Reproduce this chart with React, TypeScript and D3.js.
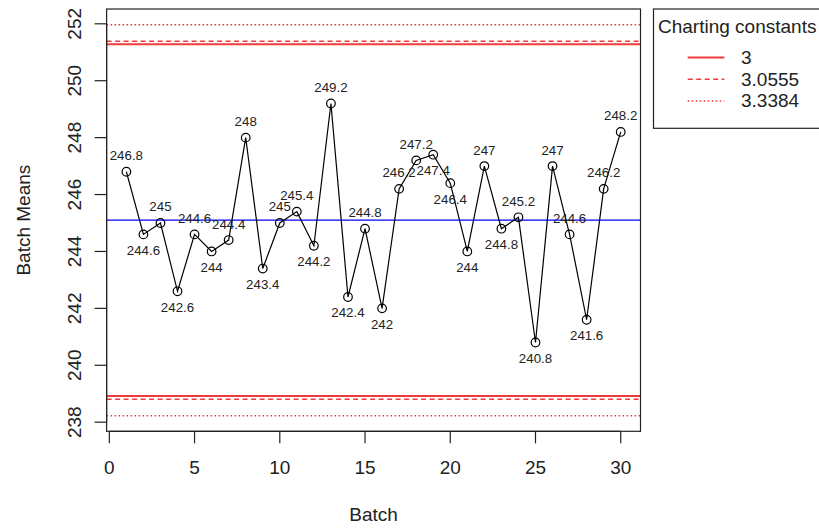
import React from "react";
import * as d3 from "d3";

const batches = d3.range(1, 31);
const batchMeans = [
  246.8, 244.6, 245, 242.6, 244.6, 244, 244.4, 248, 243.4, 245,
  245.4, 244.2, 249.2, 242.4, 244.8, 242, 246.2, 247.2, 247.4, 246.4,
  244, 247, 244.8, 245.2, 240.8, 247, 244.6, 241.6, 246.2, 248.2,
];
// label placement: 1 = above, -1 = below
const labelSide = [
  1, -1, 1, -1, 1, -1, 1, 1, -1, 1,
  1, -1, 1, -1, 1, -1, 1, 1, -1, -1,
  -1, 1, -1, 1, -1, 1, 1, -1, 1, 1,
];
const constants = ["3", "3.0555", "3.3384"];
const upperLimits = [251.28, 251.39, 251.97];
const lowerLimits = [238.92, 238.81, 238.23];
const dashes = [null, "5,3.5", "1.5,2.5"];
const xTicks = [0, 5, 10, 15, 20, 25, 30];
const yTicks = [238, 240, 242, 244, 246, 248, 250, 252];

const FONT = "'Liberation Sans', Arial, Helvetica, sans-serif";

export default function App() {
  const x = d3.scaleLinear().domain([-0.16, 31.16]).range([106.6, 640.5]);
  const y = d3.scaleLinear().domain([237.68, 252.52]).range([431.3, 9]);
  const center = d3.mean(batchMeans) as number;
  const line = d3
    .line<number>()
    .x((_, i) => x(batches[i]))
    .y((d) => y(d));
  const [x0, x1] = x.range();
  const [yb, yt] = y.range();
  const red = "#f03a3a";

  return (
    <svg
      width={819}
      height={529}
      style={{ position: "absolute", left: 0, top: 0, background: "#fff" }}
      fontFamily={FONT}
    >
      <rect x={0} y={0} width={819} height={529} fill="#fff" />
      {/* control limits */}
      {constants.map((c, i) => (
        <g key={c}>
          {[upperLimits[i], lowerLimits[i]].map((v, j) => (
            <line
              key={j}
              x1={x0}
              x2={x1}
              y1={y(v)}
              y2={y(v)}
              stroke={red}
              strokeWidth={i === 0 ? 2 : 1.5}
              strokeDasharray={dashes[i] ?? undefined}
            />
          ))}
        </g>
      ))}
      {/* center line */}
      <line x1={x0} x2={x1} y1={y(center)} y2={y(center)} stroke="#0000ff" strokeWidth={1.2} />
      {/* data */}
      <path d={line(batchMeans) ?? ""} fill="none" stroke="#000" strokeWidth={1.2} />
      {batchMeans.map((v, i) => (
        <circle key={i} cx={x(batches[i])} cy={y(v)} r={4.3} fill="none" stroke="#000" strokeWidth={1.2} />
      ))}
      {batchMeans.map((v, i) => (
        <text
          key={"l" + i}
          x={x(batches[i])}
          y={y(v) - labelSide[i] * 16}
          fontSize={13.3}
          textAnchor="middle"
          dominantBaseline="central"
          fill="#222"
        >
          {String(v)}
        </text>
      ))}
      {/* box */}
      <rect x={x0} y={yt} width={x1 - x0} height={yb - yt} fill="none" stroke="#222" strokeWidth={1.2} />
      {/* x axis */}
      <line x1={x(0)} x2={x(30)} y1={yb} y2={yb} stroke="#222" strokeWidth={1.2} />
      {xTicks.map((t) => (
        <g key={t}>
          <line x1={x(t)} x2={x(t)} y1={yb} y2={yb + 12} stroke="#222" strokeWidth={1.2} />
          <text x={x(t)} y={467.5} fontSize={19} textAnchor="middle" dominantBaseline="central" fill="#222">
            {t}
          </text>
        </g>
      ))}
      <text x={(x0 + x1) / 2} y={514.5} fontSize={19} textAnchor="middle" dominantBaseline="central" fill="#222">
        Batch
      </text>
      {/* y axis */}
      <line x1={x0} x2={x0} y1={y(238)} y2={y(252)} stroke="#222" strokeWidth={1.2} />
      {yTicks.map((t) => (
        <g key={t}>
          <line x1={x0 - 12} x2={x0} y1={y(t)} y2={y(t)} stroke="#222" strokeWidth={1.2} />
          <text
            transform={`translate(74,${y(t)}) rotate(-90)`}
            fontSize={19}
            textAnchor="middle"
            dominantBaseline="central"
            fill="#222"
          >
            {t}
          </text>
        </g>
      ))}
      <text
        transform={`translate(23,${(yt + yb) / 2}) rotate(-90)`}
        fontSize={19}
        textAnchor="middle"
        dominantBaseline="central"
        fill="#222"
      >
        Batch Means
      </text>
      {/* legend */}
      <rect x={653.5} y={9} width={200} height={119.3} fill="#fff" stroke="#222" strokeWidth={1.2} />
      <text x={658} y={26.3} fontSize={19} dominantBaseline="central" fill="#222">
        Charting constants
      </text>
      {constants.map((c, i) => {
        const ly = 57.5 + i * 21.7;
        return (
          <g key={"lg" + c}>
            <line
              x1={687.7}
              x2={724.3}
              y1={ly}
              y2={ly}
              stroke={red}
              strokeWidth={i === 0 ? 2 : 1.5}
              strokeDasharray={dashes[i] ?? undefined}
            />
            <text x={741} y={ly} fontSize={19} dominantBaseline="central" fill="#222">
              {c}
            </text>
          </g>
        );
      })}
    </svg>
  );
}
